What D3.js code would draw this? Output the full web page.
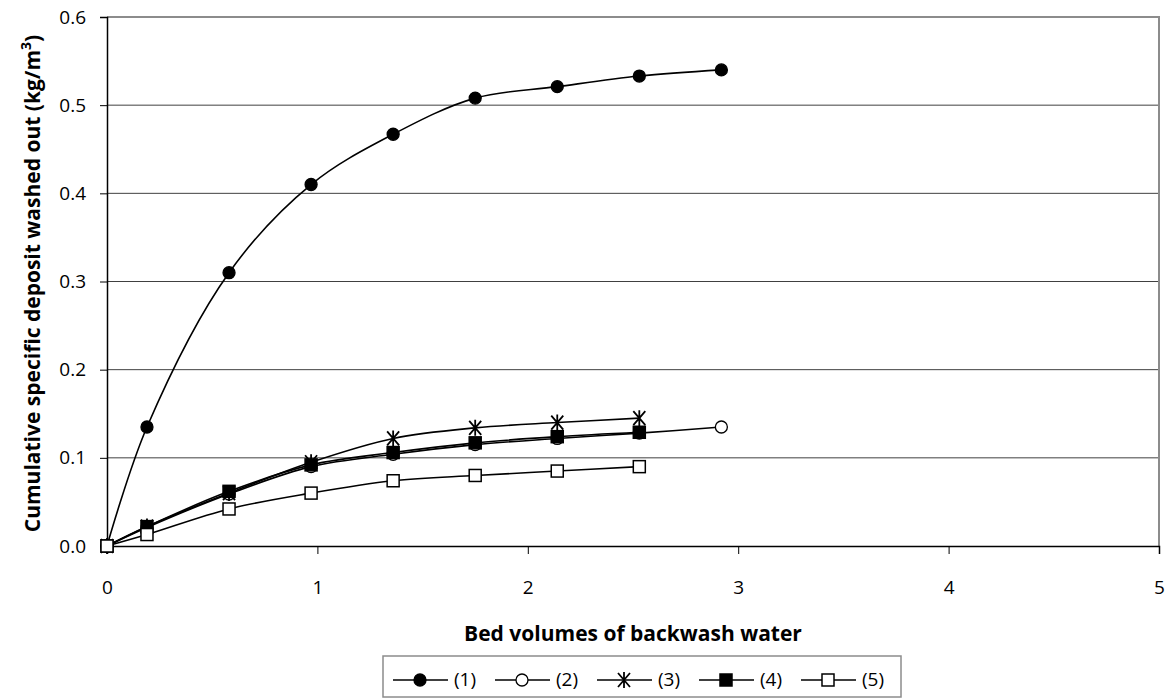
<!DOCTYPE html>
<html>
<head>
<meta charset="utf-8">
<script src="https://cdn.jsdelivr.net/npm/d3@7"></script>
<style>
  body { margin: 0; background: #fff; }
  svg { font-family: "Open Sans", "Liberation Sans", sans-serif; }
</style>
</head>
<body>
<div id="chart"></div>
<script>
// bed volumes (x) shared by all runs
const bedVolumes = [0, 0.19, 0.58, 0.97, 1.36, 1.75, 2.14, 2.53, 2.92];

const run1 = [0, 0.135, 0.31, 0.41, 0.467, 0.508, 0.521, 0.533, 0.54];
const run2 = [0, 0.021, 0.059, 0.09, 0.104, 0.115, 0.122, 0.128, 0.135];
const run3 = [0, 0.022, 0.06, 0.095, 0.122, 0.134, 0.14, 0.145];
const run4 = [0, 0.022, 0.062, 0.092, 0.106, 0.117, 0.124, 0.129];
const run5 = [0, 0.013, 0.042, 0.06, 0.074, 0.08, 0.085, 0.09];

const seriesNames = ['(1)', '(2)', '(3)', '(4)', '(5)'];
const seriesMarkers = ['dotFilled', 'dotOpen', 'star', 'squareFilled', 'squareOpen'];

const xTicks = [0, 1, 2, 3, 4, 5];
const yTicks = [0, 0.1, 0.2, 0.3, 0.4, 0.5, 0.6];

const W = 1171, H = 699;
const margin = { top: 17, right: 12, bottom: 153, left: 107 };
const width = W - margin.left - margin.right;
const height = H - margin.top - margin.bottom;

const svg = d3.select('#chart').append('svg')
    .attr('width', W)
    .attr('height', H);

const g = svg.append('g')
    .attr('transform', `translate(${margin.left},${margin.top})`);

const x = d3.scaleLinear().domain([0, 5]).range([0, width]);
const y = d3.scaleLinear().domain([0, 0.6]).range([height, 0]);

// gridlines
g.selectAll('.grid')
    .data(yTicks.filter(d => d > 0 && d < 0.6))
    .enter().append('line')
    .attr('x1', 0).attr('x2', width)
    .attr('y1', d => y(d)).attr('y2', d => y(d))
    .attr('stroke', '#404040').attr('stroke-width', 1);

// plot border (top/right)
g.append('path')
    .attr('d', `M0,${y(0.6)}H${width}V${height}`)
    .attr('fill', 'none').attr('stroke', '#8c8c8c').attr('stroke-width', 2);

const xAxisG = g.append('g')
    .attr('transform', `translate(0,${height})`)
    .call(d3.axisBottom(x).tickValues(xTicks).tickSize(8).tickPadding(27).tickFormat(d3.format('d')));

const yAxisG = g.append('g')
    .call(d3.axisLeft(y).tickValues(yTicks).tickSize(7).tickPadding(14).tickFormat(d3.format('.1f')));

[xAxisG, yAxisG].forEach(a => {
    a.select('.domain').attr('stroke', '#000').attr('stroke-width', 1.5);
    a.selectAll('.tick line').attr('stroke', '#000');
    a.selectAll('.tick text').attr('font-size', 19).attr('fill', '#000')
        .attr('font-family', '"Open Sans", sans-serif');
});

// axis titles
svg.append('text')
    .attr('x', margin.left + width / 2).attr('y', 641)
    .attr('text-anchor', 'middle')
    .attr('font-size', 21).attr('font-weight', 'bold')
    .text('Bed volumes of backwash water');

const yt = svg.append('text')
    .attr('transform', `translate(40,${margin.top + height / 2 + 2}) rotate(-90)`)
    .attr('text-anchor', 'middle')
    .attr('font-size', 21).attr('font-weight', 'bold');
yt.append('tspan').text('Cumulative specific deposit washed out (kg/m');
yt.append('tspan').attr('font-size', 14).attr('dy', -9).text('3');
yt.append('tspan').attr('dy', 9).text(')');

const allRuns = [run1, run2, run3, run4, run5];
const line = d3.line()
    .x(d => x(d[0])).y(d => y(d[1]))
    .curve(d3.curveCatmullRom.alpha(0.5));

function drawMarker(sel, type) {
    if (type === 'dotFilled' || type === 'dotOpen') {
        sel.append('circle').attr('r', 6)
            .attr('fill', type === 'dotFilled' ? '#000' : '#fff')
            .attr('stroke', '#000').attr('stroke-width', 1.3);
    } else if (type === 'squareFilled' || type === 'squareOpen') {
        sel.append('rect').attr('x', -6).attr('y', -6).attr('width', 12).attr('height', 12)
            .attr('fill', type === 'squareFilled' ? '#000' : '#fff')
            .attr('stroke', '#000').attr('stroke-width', 1.5);
    } else if (type === 'star') {
        sel.append('path')
            .attr('d', 'M-6,-7L6,7M-6,7L6,-7M0,-8V8')
            .attr('stroke', '#000').attr('stroke-width', 1.8).attr('fill', 'none');
    }
}

allRuns.forEach((vals, i) => {
    const pts = vals.map((v, j) => [bedVolumes[j], v]);
    g.append('path')
        .datum(pts)
        .attr('d', line)
        .attr('fill', 'none').attr('stroke', '#000').attr('stroke-width', 1.6);
    pts.forEach(p => {
        const m = g.append('g').attr('transform', `translate(${x(p[0])},${y(p[1])})`);
        drawMarker(m, seriesMarkers[i]);
    });
});

// legend
const legend = svg.append('g').attr('transform', 'translate(383,656)');
legend.append('rect')
    .attr('x', 0).attr('y', 0).attr('width', 518).attr('height', 41)
    .attr('fill', '#fff').attr('stroke', '#8c8c8c').attr('stroke-width', 1.5);
const itemW = 102;
seriesNames.forEach((name, i) => {
    const it = legend.append('g').attr('transform', `translate(${10 + i * itemW},24)`);
    it.append('line').attr('x1', 0).attr('x2', 55).attr('y1', 0).attr('y2', 0)
        .attr('stroke', '#000').attr('stroke-width', 1.6);
    const m = it.append('g').attr('transform', 'translate(27,0)');
    drawMarker(m, seriesMarkers[i]);
    it.append('text').attr('x', 61).attr('y', 6)
        .attr('font-size', 19).text(name);
});
</script>
</body>
</html>
